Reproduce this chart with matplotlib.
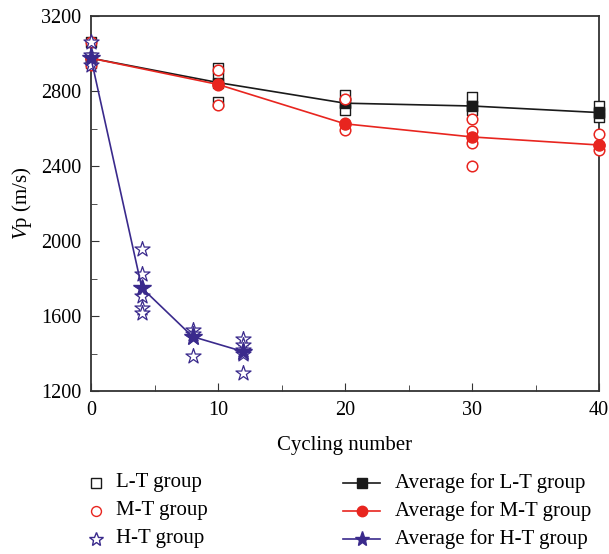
import matplotlib.pyplot as plt
from matplotlib.lines import Line2D

plt.rcParams['font.family'] = ['Liberation Serif', 'DejaVu Serif']
plt.rcParams['mathtext.fontset'] = 'custom'
plt.rcParams['mathtext.it'] = 'Liberation Serif:italic'
plt.rcParams['mathtext.rm'] = 'Liberation Serif'

# individual specimens
lt_x = [0, 0, 0, 10, 10, 10, 20, 20, 20, 30, 30, 30, 40, 40, 40]
lt_v = [3060, 2975, 2950, 2925, 2870, 2740, 2780, 2735, 2700, 2770, 2720, 2700, 2720, 2690, 2660]
mt_x = [0, 0, 0, 10, 10, 10, 20, 20, 20, 30, 30, 30, 30, 40, 40, 40]
mt_v = [3060, 2975, 2940, 2910, 2830, 2725, 2760, 2630, 2590, 2650, 2585, 2525, 2400, 2570, 2510, 2485]
ht_x = [0, 0, 0, 4, 4, 4, 4, 4, 4, 8, 8, 8, 8, 12, 12, 12, 12, 12]
ht_v = [3063, 2990, 2940, 1956, 1824, 1750, 1707, 1643, 1616, 1525, 1505, 1490, 1387,
        1476, 1445, 1419, 1395, 1298]

# averages
lt_cyc = [0, 10, 20, 30, 40]
lt_avg = [2975, 2845, 2735, 2720, 2685]
mt_cyc = [0, 10, 20, 30, 40]
mt_avg = [2975, 2835, 2625, 2555, 2512]
ht_cyc = [0, 4, 8, 12]
ht_avg = [2975, 1750, 1490, 1410]

black = '#1a1a1a'
red = '#e8251f'
navy = '#3a2a8c'

W, H = 609, 554
fig = plt.figure(figsize=(W/100, H/100), dpi=100)
ax = fig.add_axes([91/W, 1 - 391/H, (599-91)/W, (391-16)/H])

ax.scatter(lt_x, lt_v, marker='s', s=50, facecolors='white', edgecolors=black, linewidths=1.0, zorder=3, clip_on=False)
ax.plot(lt_cyc, lt_avg, color=black, lw=1.2, marker='s', ms=7.5, mfc=black, mec=black, zorder=4, clip_on=False)
ax.scatter(mt_x, mt_v, marker='o', s=58, facecolors='white', edgecolors=red, linewidths=1.1, zorder=5, clip_on=False)
ax.plot(mt_cyc, mt_avg, color=red, lw=1.2, marker='o', ms=8, mfc=red, mec=red, zorder=6, clip_on=False)
ax.scatter(ht_x, ht_v, marker='*', s=130, facecolors='white', edgecolors=navy, linewidths=0.9, zorder=7, clip_on=False)
ax.plot(ht_cyc, ht_avg, color=navy, lw=1.2, marker='*', ms=13, mfc=navy, mec=navy, zorder=8, clip_on=False)

ax.set_xlim(0, 40)
ax.set_ylim(1200, 3200)
ax.set_xticks([0, 10, 20, 30, 40])
ax.set_xticks([5, 15, 25, 35], minor=True)
ax.set_yticks([1200, 1600, 2000, 2400, 2800, 3200])
ax.set_yticks([1400, 1800, 2200, 2600, 3000], minor=True)
ax.tick_params(which='both', direction='in', labelsize=14.5, color='#333333', pad=7)
ax.tick_params(which='major', length=6)
ax.tick_params(which='minor', length=4)
for sp in ax.spines.values():
    sp.set_linewidth(1.3)
    sp.set_color('#333333')

ax.set_xlabel('Cycling number', fontsize=15, labelpad=12)
ax.set_ylabel(r'$V$p (m/s)', fontsize=15, labelpad=5)

# legend, drawn by hand in pixel positions
labels_left = ['L-T group', 'M-T group', 'H-T group']
labels_right = ['Average for L-T group', 'Average for M-T group', 'Average for H-T group']
styles = [('s', black, 7), ('o', red, 7.5), ('*', navy, 11)]
rows = [483, 511, 539]

for lab_l, lab_r, (mk, col, ms), y in zip(labels_left, labels_right, styles, rows):
    fy = 1 - y/H
    fig.add_artist(Line2D([96/W], [fy], ls='none', marker=mk, ms=ms*0.95, mfc='white',
                          mec=col, mew=1.0))
    fig.text(116/W, fy, lab_l, fontsize=15, va='center', ha='left')
    fig.add_artist(Line2D([343/W, 380/W], [fy, fy], color=col, lw=1.2))
    fig.add_artist(Line2D([361.5/W], [fy], ls='none', marker=mk, ms=ms, mfc=col, mec=col))
    fig.text(395/W, fy, lab_r, fontsize=15, va='center', ha='left')

fig.savefig('out.png', dpi=100)
